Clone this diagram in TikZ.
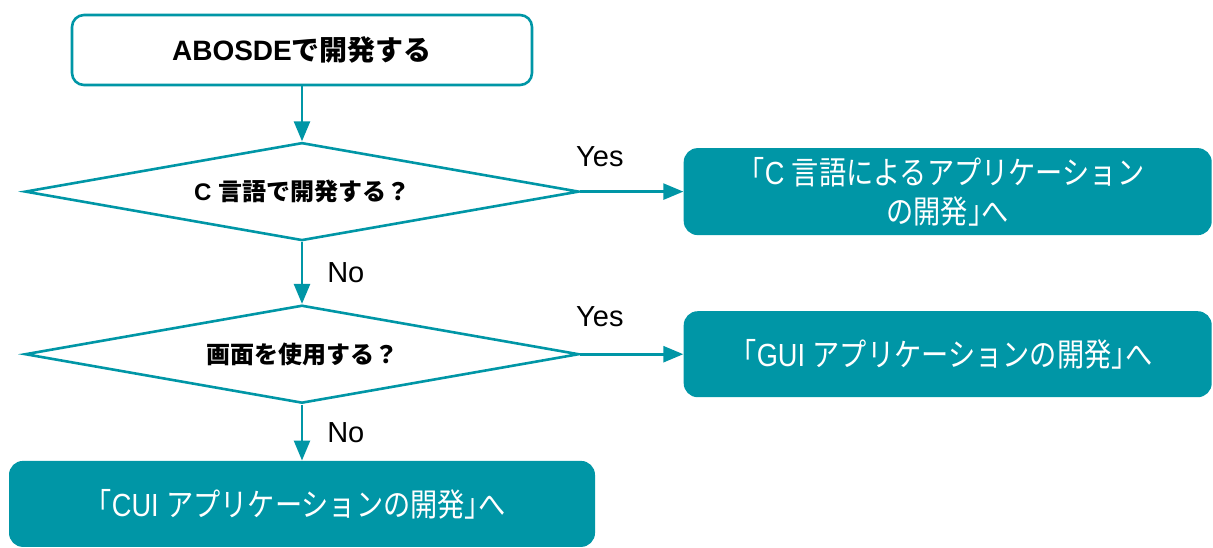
\documentclass[tikz,border=0pt]{standalone}
\usepackage{fontspec}
\usepackage{xcolor}
\usetikzlibrary{arrows.meta,positioning,shapes.geometric}
\setmainfont{Liberation Sans}
\newfontfamily\jpfont{Noto Sans CJK JP}
\newfontfamily\jpnarrow{Noto Sans CJK JP}[FakeStretch=0.85,RawFeature=+halt]
\newfontfamily\sfnarrow{Liberation Sans}[FakeStretch=0.85]
\definecolor{abteal}{RGB}{0,150,166}
\newcommand{\ja}[1]{{\jpfont #1}}
\newcommand{\jn}[1]{{\jpnarrow #1}}

\begin{document}
\begin{tikzpicture}[node distance=27.5pt,
        startbox/.style={rectangle,rounded corners=6pt,draw=abteal,fill=white,line width=1.3pt,
          minimum width=230pt,minimum height=35pt,align=center,font=\fontsize{14}{17}\selectfont\bfseries},
        decision/.style={diamond,draw=abteal,fill=white,line width=1.3pt,aspect=5.6,inner sep=0pt,
          minimum width=277pt,minimum height=49pt,align=center,font=\fontsize{12}{15}\selectfont\bfseries},
        goalbox/.style={rectangle,rounded corners=7pt,fill=abteal,text=white,inner sep=0pt,
          minimum height=43pt,align=center,font=\fontsize{16}{19.5}\selectfont\sfnarrow},
        answer/.style={inner sep=0pt,font=\fontsize{14.5}{17}\selectfont},
        arrow/.style={-{Triangle[length=10pt,width=8pt]},line width=1.3pt,draw=abteal}]
        \useasboundingbox (0,0) rectangle (606.5pt,-273.5pt);
        \node[startbox] (start) at (151pt,-25pt) {ABOSDE\ja{で開発する}};
        \node[decision,below=of start] (clang) {C \ja{言語で開発する？}};
        \node[decision,below=31pt of clang] (screen) {\ja{画面を使用する？}};
        \node[goalbox,below=28pt of screen,minimum width=293pt] (cui) {\jn{「}CUI \jn{アプリケーションの開発」へ}};
        \node[goalbox,right=51.5pt of clang,minimum width=264pt,minimum height=43.5pt] (capp)
          {\jn{「}C \jn{言語によるアプリケーション}\\\jn{の開発」へ}};
        \node[goalbox,right=51.5pt of screen,minimum width=264pt] (gui) {\jn{「}GUI \jn{アプリケーションの開発」へ}};
        \draw[arrow] (start) -- (clang);
        \draw[arrow] (clang) -- node[answer,pos=0.19,above=12pt]{Yes} (capp);
        \draw[arrow] (clang) -- node[answer,right=12pt]{No} (screen);
        \draw[arrow] (screen) -- node[answer,pos=0.19,above=13pt]{Yes} (gui);
        \draw[arrow] (screen) -- node[answer,right=12pt]{No} (cui);
      \end{tikzpicture}
\end{document}
